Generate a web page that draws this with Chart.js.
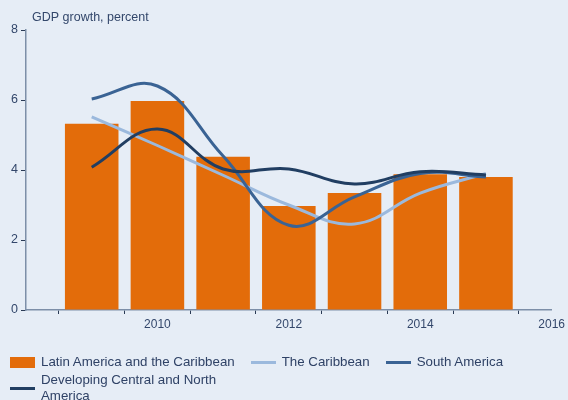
<!DOCTYPE html>
<html>
<head>
<meta charset="utf-8">
<script src="https://cdn.jsdelivr.net/npm/chart.js@4.4.0/dist/chart.umd.min.js"></script>
<style>
    body { margin: 0; background: #e6edf6; font-family: "Liberation Sans", Arial, sans-serif; }
    #wrap { position: relative; width: 568px; height: 400px; overflow: hidden; }
    #legend { position: absolute; left: 10px; top: 354px; width: 555px; display: flex; flex-wrap: wrap; row-gap: 2px; column-gap: 16px; font-size: 13.3px; color: #2f4266; line-height: 16px; }
    .item { display: flex; align-items: center; }
    .sym { width: 25px; margin-right: 6px; flex: none; }
</style>
</head>
<body>
<div id="wrap">
    <canvas id="gdpChart" width="568" height="400"></canvas>
    <div id="legend"></div>
</div>
<script>
const years = [2009, 2010, 2011, 2012, 2013, 2014, 2015];
const latinAmerica = [5.32, 5.97, 4.38, 2.97, 3.34, 3.88, 3.8];
const caribbean = [5.52, 4.7, 3.85, 3.0, 2.46, 3.34, 3.9];
const southAmerica = [6.03, 6.4, 4.4, 2.42, 3.23, 3.9, 3.8];
const centralNorth = [4.08, 5.17, 4.03, 4.03, 3.6, 3.95, 3.86];
const yTicks = [0, 2, 4, 6, 8];

const toPoints = (vals) => years.map((yr, i) => ({ x: yr, y: vals[i] }));

const axisColor = "#7d8fa8";
const textColor = "#33476b";

const titlePlugin = {
    id: "titleText",
    afterDraw(chart) {
        const ctx = chart.ctx;
        ctx.save();
        ctx.font = "12.5px 'Liberation Sans', Arial, sans-serif";
        ctx.fillStyle = textColor;
        ctx.textBaseline = "middle";
        ctx.fillText("GDP growth, percent", 32, 18);
        ctx.restore();
    }
};

const datasets = [
    {
        type: "bar",
        label: "Latin America and the Caribbean",
        data: toPoints(latinAmerica),
        backgroundColor: "#e36c0a",
        barPercentage: 0.815,
        categoryPercentage: 1,
        order: 10
    },
    {
        type: "line",
        label: "The Caribbean",
        data: toPoints(caribbean),
        borderColor: "#9bb9dd",
        borderWidth: 3,
        pointRadius: 0,
        tension: 0.4,
        order: 3
    },
    {
        type: "line",
        label: "South America",
        data: toPoints(southAmerica),
        borderColor: "#3a6394",
        borderWidth: 3,
        pointRadius: 0,
        tension: 0.4,
        order: 2
    },
    {
        type: "line",
        label: "Developing Central and North America",
        data: toPoints(centralNorth),
        borderColor: "#213e62",
        borderWidth: 3,
        pointRadius: 0,
        tension: 0.4,
        order: 1
    }
];

const chart = new Chart(document.getElementById("gdpChart"), {
    data: { datasets: datasets },
    options: {
        responsive: false,
        animation: false,
        devicePixelRatio: 1,
        layout: { padding: { top: 30, right: 12, left: 0, bottom: 0 } },
        plugins: { legend: { display: false }, tooltip: { enabled: false } },
        scales: {
            x: {
                type: "linear",
                min: 2008,
                max: 2016,
                offset: false,
                afterFit: (s) => { s.height = 90; },
                border: { color: axisColor, width: 1.5 },
                grid: { drawOnChartArea: false, drawTicks: true, tickLength: 4, color: "#2a3a55" },
                ticks: {
                    stepSize: 1,
                    padding: 3,
                    color: textColor,
                    font: { size: 12, family: "'Liberation Sans', Arial, sans-serif" },
                    maxRotation: 0,
                    autoSkip: false,
                    callback: (v) => (v % 2 === 0 && v > 2008 ? String(v) : "")
                }
            },
            y: {
                min: yTicks[0],
                max: yTicks[yTicks.length - 1],
                afterFit: (s) => { s.width = 26; },
                afterBuildTicks: (s) => { s.ticks = yTicks.map((v) => ({ value: v })); },
                border: { color: axisColor, width: 1.5 },
                grid: { drawOnChartArea: false, drawTicks: true, tickLength: 5, color: "#2a3a55" },
                ticks: {
                    padding: 3,
                    color: textColor,
                    font: { size: 12.5, family: "'Liberation Sans', Arial, sans-serif" }
                }
            }
        }
    },
    plugins: [titlePlugin]
});

// html legend so the long label can wrap like the original
const legendBox = document.getElementById("legend");
datasets.forEach((ds, i) => {
    const item = document.createElement("div");
    item.className = "item";
    const sym = document.createElement("span");
    sym.className = "sym";
    if (ds.type === "bar") {
        sym.style.height = "11px";
        sym.style.background = ds.backgroundColor;
    } else {
        sym.style.height = "3px";
        sym.style.background = ds.borderColor;
    }
    const txt = document.createElement("span");
    if (i === 3) txt.style.maxWidth = "180px";
    txt.textContent = ds.label;
    item.appendChild(sym);
    item.appendChild(txt);
    legendBox.appendChild(item);
});
</script>
</body>
</html>
